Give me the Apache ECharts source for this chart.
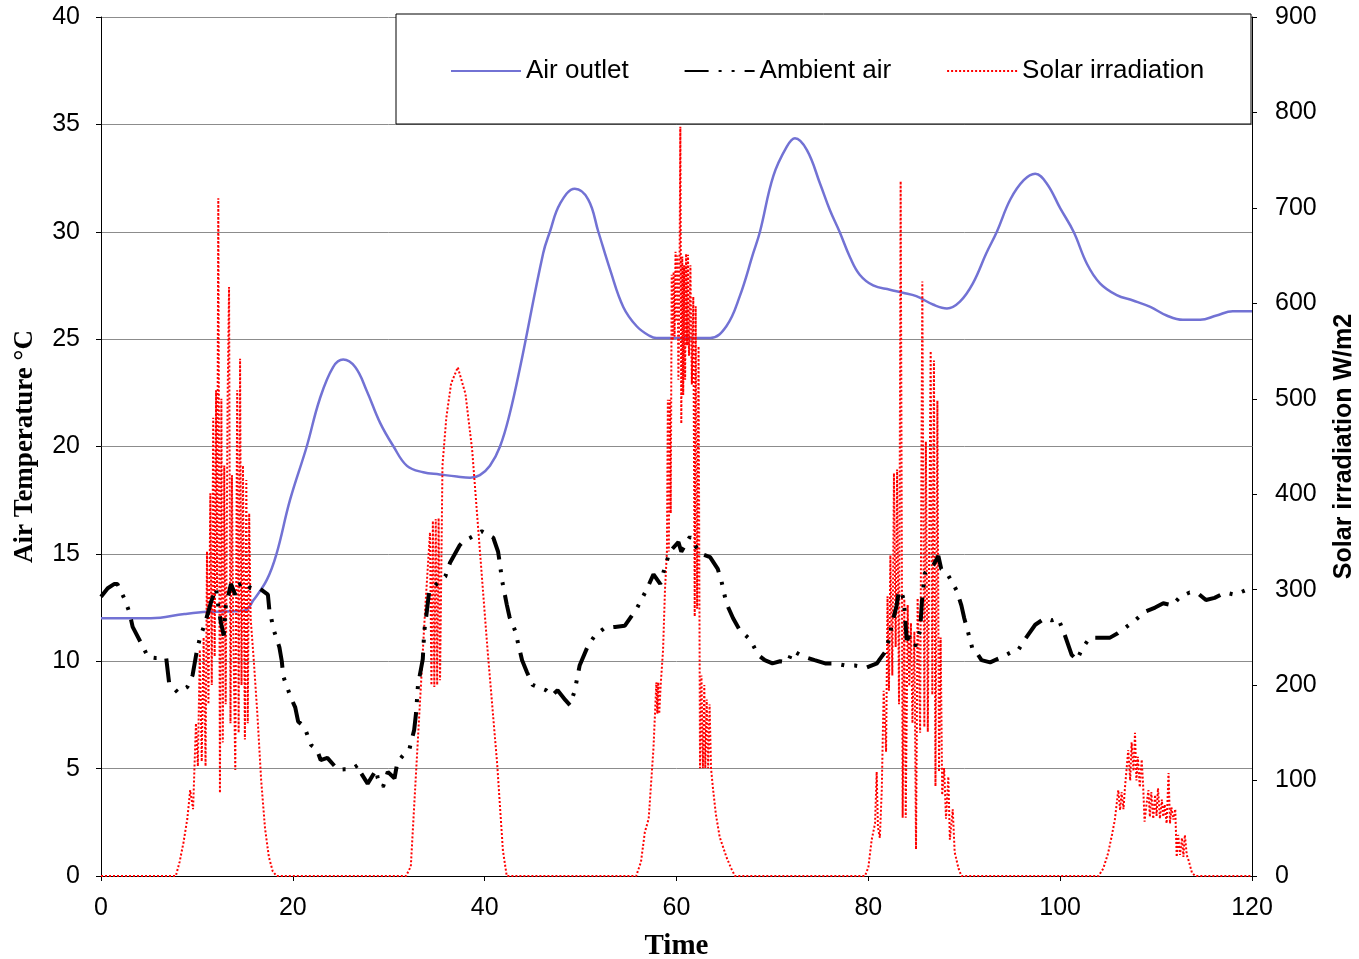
<!DOCTYPE html>
<html>
<head>
<meta charset="utf-8">
<script src="https://cdn.jsdelivr.net/npm/echarts@6/dist/echarts.min.js"></script>
<style>
  html, body { margin: 0; padding: 0; background: #fff; }
  #chart { width: 1359px; height: 959px; }
</style>
</head>
<body>
<div id="chart"></div>
<script>
// x axis: time
var xTicks = [0, 20, 40, 60, 80, 100, 120];

// air outlet temperature (smooth blue)
var outletTime = [0, 5.2, 8.7, 11.1, 14.9, 15.9, 17.3, 18.3, 19.7, 21.45, 22.8, 24.2, 25.25, 26.5, 27.7, 29.1, 30.5, 31.9, 33.6, 35.3, 37.1, 38.5, 39.5, 40.55, 41.6, 42.6, 43.7, 46.1, 46.8, 47.85, 49.4, 50.8, 51.85, 53.1, 54.45, 55.85, 57.2, 57.9, 63.5, 65.2, 66.6, 68.0, 68.7, 70.1, 71.5, 72.35, 73.6, 74.96, 76.0, 77.0, 78.1, 79.1, 80.5, 82.25, 83.6, 85.0, 86.8, 88.2, 89.55, 90.9, 92.3, 93.4, 94.8, 96.2, 97.4, 98.6, 100.0, 101.4, 102.8, 104.15, 105.9, 107.6, 109.4, 111.1, 112.8, 114.6, 116.3, 118.0, 120];
var outletTemp = [12.0, 12.0, 12.2, 12.3, 12.35, 12.85, 13.8, 15.0, 17.5, 20.0, 22.2, 23.7, 24.05, 23.7, 22.6, 21.1, 20.0, 19.1, 18.8, 18.7, 18.6, 18.55, 18.67, 19.1, 20.0, 21.5, 23.7, 29.0, 30.0, 31.3, 32.0, 31.5, 30.0, 28.2, 26.5, 25.6, 25.15, 25.05, 25.05, 25.6, 27.0, 29.0, 30.0, 32.6, 33.96, 34.35, 33.8, 32.25, 31.0, 30.0, 28.8, 28.0, 27.5, 27.3, 27.16, 27.0, 26.6, 26.43, 26.75, 27.6, 29.0, 30.0, 31.5, 32.4, 32.7, 32.25, 31.1, 30.0, 28.5, 27.6, 27.05, 26.8, 26.5, 26.1, 25.9, 25.9, 26.1, 26.3, 26.3];

// ambient air temperature (black dash-dot-dot)
var ambientTime = [0, 0.7, 1.4, 1.7, 2.4, 2.95, 3.3, 4.35, 4.9, 5.7, 6.8, 7.1, 8.0, 9.0, 9.55, 10.0, 10.35, 10.8, 11.5, 12.0, 12.15, 12.5, 12.8, 13.0, 13.55, 14.0, 14.25, 14.6, 14.95, 15.6, 16.5, 17.4, 17.55, 18.05, 18.6, 18.85, 19.0, 19.8, 20.25, 20.55, 21.2, 21.9, 22.5, 22.9, 23.6, 24.7, 25.4, 26.1, 26.8, 27.1, 27.8, 28.7, 28.85, 29.4, 29.9, 30.6, 30.9, 31.55, 32.15, 32.65, 32.85, 33.05, 33.55, 33.7, 33.9, 34.2, 35.0, 35.9, 36.4, 37.4, 37.8, 38.5, 39.7, 40.9, 41.4, 41.6, 41.8, 42.3, 42.6, 43.2, 43.5, 43.9, 44.4, 45.0, 45.8, 46.4, 47.0, 47.6, 48.4, 48.9, 49.4, 49.9, 50.8, 51.5, 52.5, 53.6, 54.6, 55.85, 56.9, 57.6, 58.3, 58.8, 59.3, 60.2, 60.5, 61.4, 61.9, 62.6, 63.5, 64.3, 64.7, 65.2, 65.9, 66.6, 67.7, 68.5, 69.2, 70.0, 70.8, 71.6, 72.1, 72.9, 73.7, 74.4, 75.5, 76.5, 77.6, 78.6, 79.8, 80.9, 81.2, 81.7, 82.1, 82.4, 82.95, 83.2, 83.5, 83.7, 84.0, 84.3, 84.9, 85.4, 85.6, 85.9, 86.25, 86.8, 87.3, 87.6, 88.2, 89.2, 89.7, 90.0, 90.4, 90.9, 91.3, 91.8, 92.7, 93.7, 94.8, 95.6, 96.3, 97.4, 98.4, 99.1, 99.8, 100.5, 101.2, 101.75, 102.3, 103.1, 104.2, 105.2, 106.0, 106.75, 107.8, 108.8, 109.9, 110.75, 111.7, 112.5, 113.5, 114.4, 115.2, 116.1, 117.2, 118.2, 119.3, 120];
var ambientTemp = [13.0, 13.4, 13.6, 13.6, 12.95, 12.3, 11.6, 10.7, 10.2, 10.15, 10.15, 9.0, 8.55, 8.8, 9.35, 10.5, 11.15, 11.7, 12.8, 13.4, 12.8, 11.8, 11.2, 12.55, 13.6, 13.1, 13.55, 13.6, 13.7, 13.4, 13.4, 13.1, 12.4, 11.4, 10.65, 10.0, 9.3, 8.3, 7.85, 7.2, 6.95, 6.1, 5.9, 5.4, 5.5, 4.95, 4.97, 4.97, 5.17, 4.8, 4.3, 4.95, 4.55, 4.15, 4.85, 4.55, 5.3, 5.65, 5.9, 6.8, 7.6, 8.9, 10.1, 11.4, 12.05, 13.2, 13.6, 13.95, 14.6, 15.4, 15.6, 15.75, 16.05, 15.75, 15.1, 14.5, 13.8, 12.65, 12.05, 11.4, 10.8, 10.05, 9.5, 8.9, 8.75, 8.65, 8.4, 8.65, 8.2, 7.95, 8.65, 9.8, 10.75, 11.2, 11.55, 11.6, 11.65, 12.45, 13.35, 14.05, 13.6, 14.4, 15.1, 15.55, 15.1, 15.8, 15.4, 15.0, 14.85, 14.3, 13.7, 12.7, 12.0, 11.45, 11.0, 10.3, 10.05, 9.9, 10.0, 9.95, 10.5, 10.3, 10.15, 10.05, 9.9, 9.9, 9.8, 9.8, 9.7, 9.9, 10.1, 10.4, 10.95, 11.6, 12.6, 13.3, 13.15, 12.85, 11.0, 11.15, 10.7, 11.45, 12.85, 14.1, 14.3, 14.5, 14.9, 14.3, 14.1, 13.3, 12.6, 12.0, 11.35, 10.5, 10.4, 10.05, 9.95, 10.15, 10.4, 10.5, 11.0, 11.7, 12.0, 11.9, 12.0, 11.2, 10.3, 10.05, 10.6, 11.1, 11.1, 11.1, 11.3, 11.55, 11.9, 12.3, 12.5, 12.7, 12.6, 13.0, 13.2, 13.15, 12.85, 12.95, 13.2, 13.1, 13.3, 13.55];

// solar irradiation W/m2 (red dotted, right axis)
var solarTime = [0, 7.8, 8.2, 8.6, 9.0, 9.3, 9.6, 9.9, 10.1, 10.3, 10.5, 10.7, 10.9, 11.05, 11.2, 11.4, 11.55, 11.7, 11.85, 12.0, 12.1, 12.23, 12.4, 12.55, 12.7, 12.85, 13.0, 13.2, 13.35, 13.5, 13.65, 13.8, 14.0, 14.2, 14.35, 14.5, 14.65, 14.8, 15.0, 15.15, 15.3, 15.45, 15.6, 15.9, 16.3, 16.7, 17.1, 17.5, 17.9, 18.3,
  31.8, 32.3, 32.8, 33.3, 33.8, 34.3, 34.45, 34.6, 34.75, 34.9, 35.05, 35.2, 35.35, 35.6, 36.0, 36.5, 37.2, 38.0, 38.7, 39.5, 40.3, 41.3, 41.9, 42.3,
  55.8, 56.3, 56.7, 57.1, 57.6, 57.9, 58.0, 58.1, 58.2, 58.35, 58.6, 58.8, 59.0, 59.1, 59.2, 59.3, 59.4, 59.5, 59.6, 59.7, 59.8, 59.9, 60.0, 60.1, 60.2, 60.3, 60.4, 60.5, 60.6, 60.7, 60.8, 60.9, 61.0, 61.1, 61.2, 61.3, 61.45, 61.6, 61.75, 61.9, 62.0, 62.15, 62.3, 62.45, 62.6, 62.75, 62.9, 63.0, 63.15, 63.3, 63.45, 63.6, 63.8, 64.1, 64.5, 65.2, 65.7, 66.1,
  79.65, 80.0, 80.35, 80.7, 80.87, 81.0, 81.2, 81.4, 81.6, 81.85, 82.0, 82.15, 82.3, 82.5, 82.67, 82.85, 83.0, 83.2, 83.37, 83.58, 83.75, 83.9, 84.1, 84.27, 84.44, 84.6, 84.8, 84.97, 85.14, 85.4, 85.63, 85.84, 86.0, 86.2, 86.5, 86.67, 86.84, 87.0, 87.2, 87.37, 87.54, 87.7, 87.9, 88.1, 88.34, 88.5, 88.8, 89.0, 89.4, 89.7,
  104.0, 104.5, 105.0, 105.4, 105.7, 106.06, 106.25, 106.4, 106.6, 106.75, 107.1, 107.3, 107.45, 107.65, 107.8, 107.95, 108.1, 108.3, 108.5, 108.65, 108.8, 109.0, 109.2, 109.35, 109.5, 109.7, 109.9, 110.05, 110.2, 110.4, 110.6, 110.75, 110.9, 111.1, 111.3, 111.45, 111.6, 111.8, 112.0, 112.15, 112.3, 112.5, 112.7, 112.85, 113.0, 113.2, 113.4, 113.75, 114.1, 120];
var solarIrr = [0, 0, 15, 35, 60, 90, 70, 160, 115, 237, 120, 250, 115, 340, 180, 401, 200, 480, 230, 509, 300, 710, 87, 500, 140, 430, 180, 500, 617, 160, 420, 250, 111, 509, 150, 542, 200, 430, 143, 415, 160, 380, 270, 230, 170, 100, 50, 20, 5, 0,
  0, 10, 100, 190, 280, 360, 200, 372, 198, 374, 200, 375, 205, 430, 480, 516, 533, 505, 446, 341, 237, 118, 27, 0,
  0, 15, 46, 60, 134, 203, 170, 203, 170, 200, 237, 300, 340, 499, 340, 499, 380, 630, 561, 633, 565, 654, 581, 650, 520, 600, 785, 474, 649, 504, 640, 520, 652, 556, 651, 545, 640, 515, 607, 272, 597, 280, 555, 113, 210, 113, 200, 113, 185, 113, 180, 113, 92, 65, 41, 20, 8, 0,
  0, 9, 38, 55, 109, 51, 40, 90, 194, 130, 293, 194, 336, 210, 422, 240, 426, 180, 728, 61, 290, 61, 284, 199, 265, 160, 256, 28, 291, 150, 623, 156, 455, 151, 550, 190, 540, 94, 498, 109, 250, 85, 113, 60, 104, 38, 70, 25, 8, 0,
  0, 8, 24, 43, 59, 90, 69, 88, 70, 92, 132, 100, 140, 110, 150, 100, 125, 93, 122, 95, 57, 75, 90, 62, 88, 60, 85, 63, 92, 60, 80, 62, 75, 55, 108, 55, 72, 59, 70, 20, 43, 22, 40, 20, 43, 22, 16, 3, 0, 0];

function pairs(xs, ys) {
  var out = [];
  for (var i = 0; i < xs.length; i++) out.push([xs[i], ys[i]]);
  return out;
}

var sans = 'Liberation Sans, Arial, sans-serif';
var serif = 'Liberation Serif, Times New Roman, serif';

var myChart = echarts.init(document.getElementById('chart'));
var option = {
  backgroundColor: '#fff',
  animation: false,
  grid: { left: 101, right: 107, top: 17, bottom: 83, containLabel: false, outerBoundsMode: 'none' },
  legend: {
    left: 450,
    top: 58,
    padding: 0,
    itemWidth: 70,
    itemHeight: 14,
    itemGap: 55,
    itemStyle: { opacity: 0 },
    textStyle: { fontSize: 26, fontFamily: sans, color: '#000' },
    data: ['Air outlet', 'Ambient air', 'Solar irradiation']
  },
  graphic: [{
    type: 'rect',
    z: 3,
    shape: { x: 396, y: 14, width: 855, height: 110 },
    style: { fill: '#fff', stroke: '#000', lineWidth: 1 }
  }],
  xAxis: {
    type: 'value',
    min: 0, max: 120, interval: 20,
    name: 'Time',
    nameLocation: 'middle',
    nameGap: 56,
    nameTextStyle: { fontSize: 29, fontWeight: 'bold', fontFamily: serif, color: '#000' },
    axisLine: { lineStyle: { color: '#000', width: 1 } },
    axisTick: { show: true, length: 5, lineStyle: { color: '#000' } },
    axisLabel: { fontSize: 25, fontFamily: sans, color: '#000', margin: 20 },
    splitLine: { show: false }
  },
  yAxis: [{
    type: 'value',
    min: 0, max: 40, interval: 5,
    name: 'Air Temperature °C',
    nameLocation: 'middle',
    nameRotate: 90,
    nameGap: 62,
    nameTextStyle: { fontSize: 27, fontWeight: 'bold', fontFamily: serif, color: '#000' },
    axisLine: { show: true, lineStyle: { color: '#000', width: 1 } },
    axisTick: { show: true, length: 5, lineStyle: { color: '#000' } },
    axisLabel: { fontSize: 25, fontFamily: sans, color: '#000', margin: 21 },
    splitLine: { show: true, lineStyle: { color: '#8c8c8c', width: 1 } }
  }, {
    type: 'value',
    position: 'right',
    min: 0, max: 900, interval: 100,
    name: 'Solar irradiation W/m2',
    nameLocation: 'middle',
    nameRotate: 90,
    nameGap: 80,
    nameTextStyle: { fontSize: 25, fontWeight: 'bold', fontFamily: sans, color: '#000' },
    axisLine: { show: true, lineStyle: { color: '#000', width: 1 } },
    axisTick: { show: true, length: 5, lineStyle: { color: '#000' } },
    axisLabel: { fontSize: 25, fontFamily: sans, color: '#000', margin: 23 },
    splitLine: { show: false }
  }],
  series: [{
    name: 'Air outlet',
    type: 'line',
    yAxisIndex: 0,
    symbol: 'none',
    smooth: 0.4,
    z: 2,
    color: '#7272d4',
    lineStyle: { color: '#7272d4', width: 2.5 },
    data: pairs(outletTime, outletTemp)
  }, {
    name: 'Ambient air',
    type: 'line',
    yAxisIndex: 0,
    symbol: 'none',
    z: 4,
    color: '#000',
    lineStyle: { color: '#000', width: 4, type: [24, 10, 3, 10, 3, 10] },
    data: pairs(ambientTime, ambientTemp)
  }, {
    name: 'Solar irradiation',
    type: 'line',
    yAxisIndex: 1,
    symbol: 'none',
    z: 3,
    color: '#ff0000',
    lineStyle: { color: '#ff0000', width: 2, type: [2, 2] },
    data: pairs(solarTime, solarIrr)
  }]
};
myChart.setOption(option);
</script>
</body>
</html>
